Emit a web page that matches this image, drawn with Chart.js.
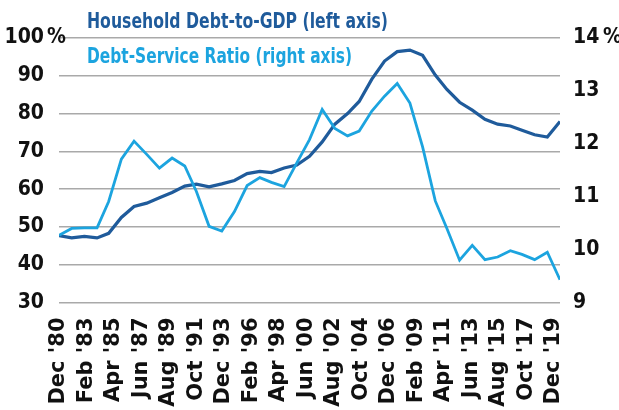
<!DOCTYPE html>
<html>
<head>
<meta charset="utf-8">
<script src="https://cdn.jsdelivr.net/npm/chart.js@4/dist/chart.umd.min.js"></script>
<style>
  html, body { margin: 0; padding: 0; background: #ffffff; }
  #wrap { width: 619px; height: 410px; }
</style>
</head>
<body>
<div id="wrap"><canvas id="chart" width="619" height="410"></canvas></div>
<script>
// Sample dates, in months after December 1980
const sampleMonths = [0, 12, 24, 36, 47, 59, 71, 83, 95, 107, 119, 130, 142, 154, 166, 178,
  190, 201, 213, 225, 237, 249, 261, 273, 284, 296, 308, 320, 332, 344, 356, 367, 379, 391,
  403, 415, 427, 438, 450, 462, 474];

// Household debt as a share of GDP, %
const debtToGdp = [47.7, 47.1, 47.5, 47.1, 48.3, 52.5, 55.4, 56.3, 57.7, 59.1, 60.8, 61.3,
  60.6, 61.4, 62.3, 64.1, 64.7, 64.4, 65.6, 66.4, 68.7, 72.5, 77.2, 80.0, 83.2, 89.1, 93.9,
  96.4, 96.8, 95.4, 90.2, 86.4, 83.0, 80.9, 78.5, 77.2, 76.7, 75.6, 74.4, 73.8, 77.9];

// Household debt-service ratio, %
const debtServiceRatio = [10.27, 10.40, 10.41, 10.41, 10.91, 11.71, 12.05, 11.80, 11.54,
  11.73, 11.58, 11.10, 10.44, 10.35, 10.72, 11.21, 11.36, 11.27, 11.19, 11.64, 12.08, 12.65,
  12.29, 12.15, 12.24, 12.62, 12.90, 13.14, 12.77, 11.94, 10.92, 10.40, 9.80, 10.08, 9.81,
  9.86, 9.98, 9.91, 9.81, 9.95, 9.43];

// Date ticks along the bottom
const tickMonths = [0, 26, 52, 78, 104, 130, 156, 182, 208, 234, 260, 286, 312, 338, 364,
  390, 416, 442, 468];
const tickLabels = ["Dec '80", "Feb '83", "Apr '85", "Jun '87", "Aug '89", "Oct '91",
  "Dec '93", "Feb '96", "Apr '98", "Jun '00", "Aug '02", "Oct '04", "Dec '06", "Feb '09",
  "Apr '11", "Jun '13", "Aug '15", "Oct '17", "Dec '19"];

const seriesNames = ["Household Debt-to-GDP (left axis)", "Debt-Service Ratio (right axis)"];

const DARK = '#1f5b9b';
const LIGHT = '#1ca4df';
const CONDENSED = '"DejaVu Sans Condensed", "DejaVu Sans", sans-serif';
const AXIS_FONT = { family: CONDENSED, size: 21, weight: 'bold' };

// Writes a line of text squeezed horizontally to the given width
function drawNarrow(ctx, text, x, y, width) {
  const natural = ctx.measureText(text).width;
  ctx.save();
  ctx.translate(x, y);
  ctx.scale(width / natural, 1);
  ctx.fillText(text, 0, 0);
  ctx.restore();
}

// Coloured series names written over the top-left of the plot, plus the % sign of the left axis
const headerText = {
  id: 'headerText',
  afterDraw(chart) {
    const ctx = chart.ctx;
    ctx.save();
    ctx.textBaseline = 'middle';
    ctx.textAlign = 'left';
    ctx.font = 'bold 22px ' + CONDENSED;
    ctx.fillStyle = DARK;
    drawNarrow(ctx, seriesNames[0], 87, 22, 301);
    ctx.fillStyle = LIGHT;
    drawNarrow(ctx, seriesNames[1], 87, 57, 265);
    const yTop = chart.scales.y.getPixelForValue(100);
    ctx.font = 'bold 21px ' + CONDENSED;
    ctx.fillStyle = '#111111';
    ctx.fillText('%', 47, yTop);
    ctx.restore();
  }
};

new Chart(document.getElementById('chart'), {
  type: 'line',
  data: {
    datasets: [
      {
        label: seriesNames[0],
        data: sampleMonths.map((m, i) => ({ x: m, y: debtToGdp[i] })),
        yAxisID: 'y',
        borderColor: DARK,
        borderWidth: 3.2,
        pointRadius: 0,
        tension: 0,
        order: 2
      },
      {
        label: seriesNames[1],
        data: sampleMonths.map((m, i) => ({ x: m, y: debtServiceRatio[i] })),
        yAxisID: 'y1',
        borderColor: LIGHT,
        borderWidth: 2.8,
        pointRadius: 0,
        tension: 0,
        order: 1
      }
    ]
  },
  options: {
    responsive: false,
    animation: false,
    devicePixelRatio: 1,
    layout: { padding: { top: 38, left: 0, right: 0, bottom: 0 } },
    plugins: {
      legend: { display: false },
      tooltip: { enabled: false }
    },
    scales: {
      x: {
        type: 'linear',
        min: 0,
        max: 474,
        afterBuildTicks(scale) {
          scale.ticks = tickMonths.map(v => ({ value: v }));
        },
        afterFit(scale) { scale.height = 107.5; },
        grid: { display: false, drawTicks: false },
        border: { display: false },
        ticks: {
          autoSkip: false,
          minRotation: 90,
          maxRotation: 90,
          padding: 15,
          color: '#111111',
          font: { family: '"DejaVu Sans", sans-serif', size: 21, weight: 'bold' },
          callback(value) {
            const i = tickMonths.indexOf(value);
            return i >= 0 ? tickLabels[i] : '';
          }
        }
      },
      y: {
        position: 'left',
        min: 30,
        max: 100,
        afterFit(scale) { scale.width = 59; },
        grid: { color: '#a9a9a9', lineWidth: 1.6, drawTicks: false },
        border: { display: false },
        ticks: {
          stepSize: 10,
          padding: 15,
          color: '#111111',
          font: AXIS_FONT
        }
      },
      y1: {
        position: 'right',
        min: 9,
        max: 14,
        afterFit(scale) { scale.width = 59; },
        grid: { display: false, drawTicks: false },
        border: { display: false },
        ticks: {
          stepSize: 1,
          padding: 13,
          color: '#111111',
          font: AXIS_FONT,
          callback(value) { return value === 14 ? '14\u2009%' : String(value); }
        }
      }
    }
  },
  plugins: [headerText]
});
</script>
</body>
</html>
